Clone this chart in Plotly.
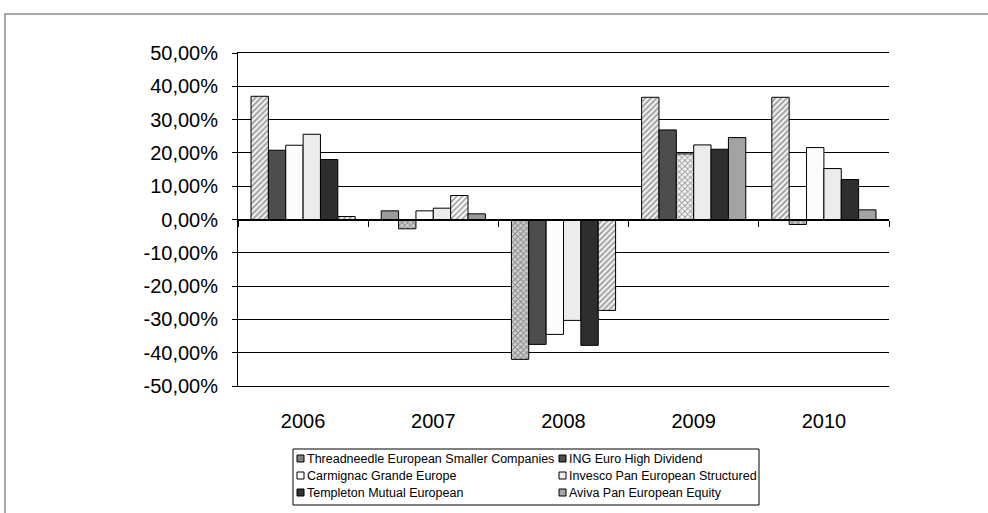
import plotly.graph_objects as go

# ---------------- data ----------------
years = ["2006", "2007", "2008", "2009", "2010"]

series_names = [
    "Threadneedle European Smaller Companies",
    "ING Euro High Dividend",
    "Carmignac Grande Europe",
    "Invesco Pan European Structured",
    "Templeton Mutual European",
    "Aviva Pan European Equity",
]

threadneedle = [37.0, 2.6, -42.0, 36.7, 36.7]
ing = [20.8, -2.8, -37.5, 26.9, -1.5]
carmignac = [22.3, 2.6, -34.5, 19.7, 21.6]
invesco = [25.6, 3.4, -30.3, 22.4, 15.3]
templeton = [18.0, 7.2, -37.8, 21.1, 12.0]
aviva = [0.9, 1.7, -27.3, 24.6, 2.9]

series_values = [threadneedle, ing, carmignac, invesco, templeton, aviva]

ytick_vals = [50, 40, 30, 20, 10, 0, -10, -20, -30, -40, -50]
ytick_labels = ["50,00%", "40,00%", "30,00%", "20,00%", "10,00%", "0,00%",
                "-10,00%", "-20,00%", "-30,00%", "-40,00%", "-50,00%"]

# ---------------- styles ----------------
legend_colors = ["#808080", "#4d4d4d", "#ffffff", "#ececec", "#333333", "#a6a6a6"]

# fill style per series per year
STYLES = {
    "hatch": dict(color="#f2f2f2", shape="/", fg="#8c8c8c"),
    "hatchdark": dict(color="#ffffff", shape="/", fg="#4a4a4a"),
    "check": dict(color="#d0d0d0", shape="x", fg="#6e6e6e"),
    "checklight": dict(color="#f6f6f6", shape="x", fg="#c4c4c4"),
    "gray": dict(color="#9a9a9a", shape="", fg="#9a9a9a"),
    "dark": dict(color="#4d4d4d", shape="", fg="#4d4d4d"),
    "white": dict(color="#fcfcfc", shape="", fg="#fcfcfc"),
    "light": dict(color="#ececec", shape="", fg="#ececec"),
    "black": dict(color="#2e2e2e", shape="", fg="#2e2e2e"),
    "aviva": dict(color="#a3a3a3", shape="", fg="#a3a3a3"),
}
fill_styles = [
    ["hatch", "gray", "check", "hatch", "hatch"],
    ["dark", "check", "dark", "dark", "check"],
    ["white", "white", "white", "checklight", "white"],
    ["light", "light", "light", "light", "light"],
    ["black", "hatchdark", "black", "black", "black"],
    ["hatch", "gray", "hatch", "aviva", "aviva"],
]

FONT = "Liberation Sans, Arial, sans-serif"
W, H = 988, 513
ML, MR, MT, MB = 238, 99, 53, 127
PW, PH = W - ML - MR, H - MT - MB


def px(x):
    return (x - ML) / PW


def py(y):
    return (H - MB - y) / PH


fig = go.Figure()

for name, vals, styles in zip(series_names, series_values, fill_styles):
    st = [STYLES[s] for s in styles]
    fig.add_trace(go.Bar(
        x=years, y=vals, name=name, showlegend=False,
        marker=dict(
            color=[s["color"] for s in st],
            line=dict(color="#000000", width=1),
            pattern=dict(
                shape=[s["shape"] for s in st],
                fgcolor=[s["fg"] for s in st],
                size=4, solidity=0.45, fillmode="overlay",
            ),
        ),
        hovertemplate="%{x}: %{y:.1f}%<extra>" + name + "</extra>",
    ))

# invisible trace to give the zero-line axis its categories
fig.add_trace(go.Scatter(x=years, y=[None] * len(years), xaxis="x2",
                         showlegend=False, hoverinfo="skip"))

shapes = []
annotations = []

# chart area frame (extends past the window edge)
shapes.append(dict(type="rect", xref="paper", yref="paper",
                   x0=px(5), x1=px(1100), y0=py(14), y1=py(600),
                   line=dict(color="#8c8c8c", width=1.5), layer="below"))

# manual legend (two columns, three rows)
box_l, box_r, box_t, box_b = 293, 759, 449, 505
shapes.append(dict(type="rect", xref="paper", yref="paper",
                   x0=px(box_l), x1=px(box_r), y0=py(box_t), y1=py(box_b),
                   line=dict(color="#000000", width=1), fillcolor="#ffffff"))
col_x = [297, 559]
row_y = [458.5, 475.5, 492.5]
for i, (name, col) in enumerate(zip(series_names, legend_colors)):
    cx = col_x[i % 2]
    cy = row_y[i // 2]
    shapes.append(dict(type="rect", xref="paper", yref="paper",
                       x0=px(cx), x1=px(cx + 7), y0=py(cy - 3.5), y1=py(cy + 3.5),
                       line=dict(color="#000000", width=1), fillcolor=col))
    annotations.append(dict(text=name, xref="paper", yref="paper",
                            x=px(cx + 8), y=py(cy), xanchor="left", yanchor="middle",
                            showarrow=False, font=dict(family=FONT, size=12.5, color="#000")))

fig.update_layout(
    width=W, height=H,
    margin=dict(l=ML, r=MR, t=MT, b=MB, pad=0),
    paper_bgcolor="#ffffff", plot_bgcolor="#ffffff",
    barmode="group", bargap=0.2, bargroupgap=0,
    font=dict(family=FONT, size=20, color="#000000"),
    xaxis=dict(type="category", categoryarray=years, range=[-0.5, 4.5],
               showline=True, mirror=True, linecolor="#000000", linewidth=1,
               ticks="", showgrid=False, zeroline=False,
               ticklabelstandoff=17, tickfont=dict(size=20)),
    xaxis2=dict(type="category", categoryarray=years, range=[-0.5, 4.5],
                overlaying="x", anchor="free", position=0.5,
                showline=True, linecolor="#000000", linewidth=1,
                ticks="outside", tickson="boundaries", ticklen=6,
                tickcolor="#000000", tickwidth=1,
                showticklabels=False, showgrid=False, zeroline=False),
    yaxis=dict(range=[-50, 50], tickvals=ytick_vals, ticktext=ytick_labels,
               showline=True, linecolor="#000000", linewidth=1,
               ticks="outside", ticklen=5, tickcolor="#000000",
               showgrid=True, gridcolor="#000000", gridwidth=1,
               zeroline=False, ticklabelstandoff=10, tickfont=dict(size=20)),
    shapes=shapes,
    annotations=annotations,
    showlegend=False,
)

fig.write_html("out.html", config={"displayModeBar": False},
               post_script="document.body.style.margin='0px';")
